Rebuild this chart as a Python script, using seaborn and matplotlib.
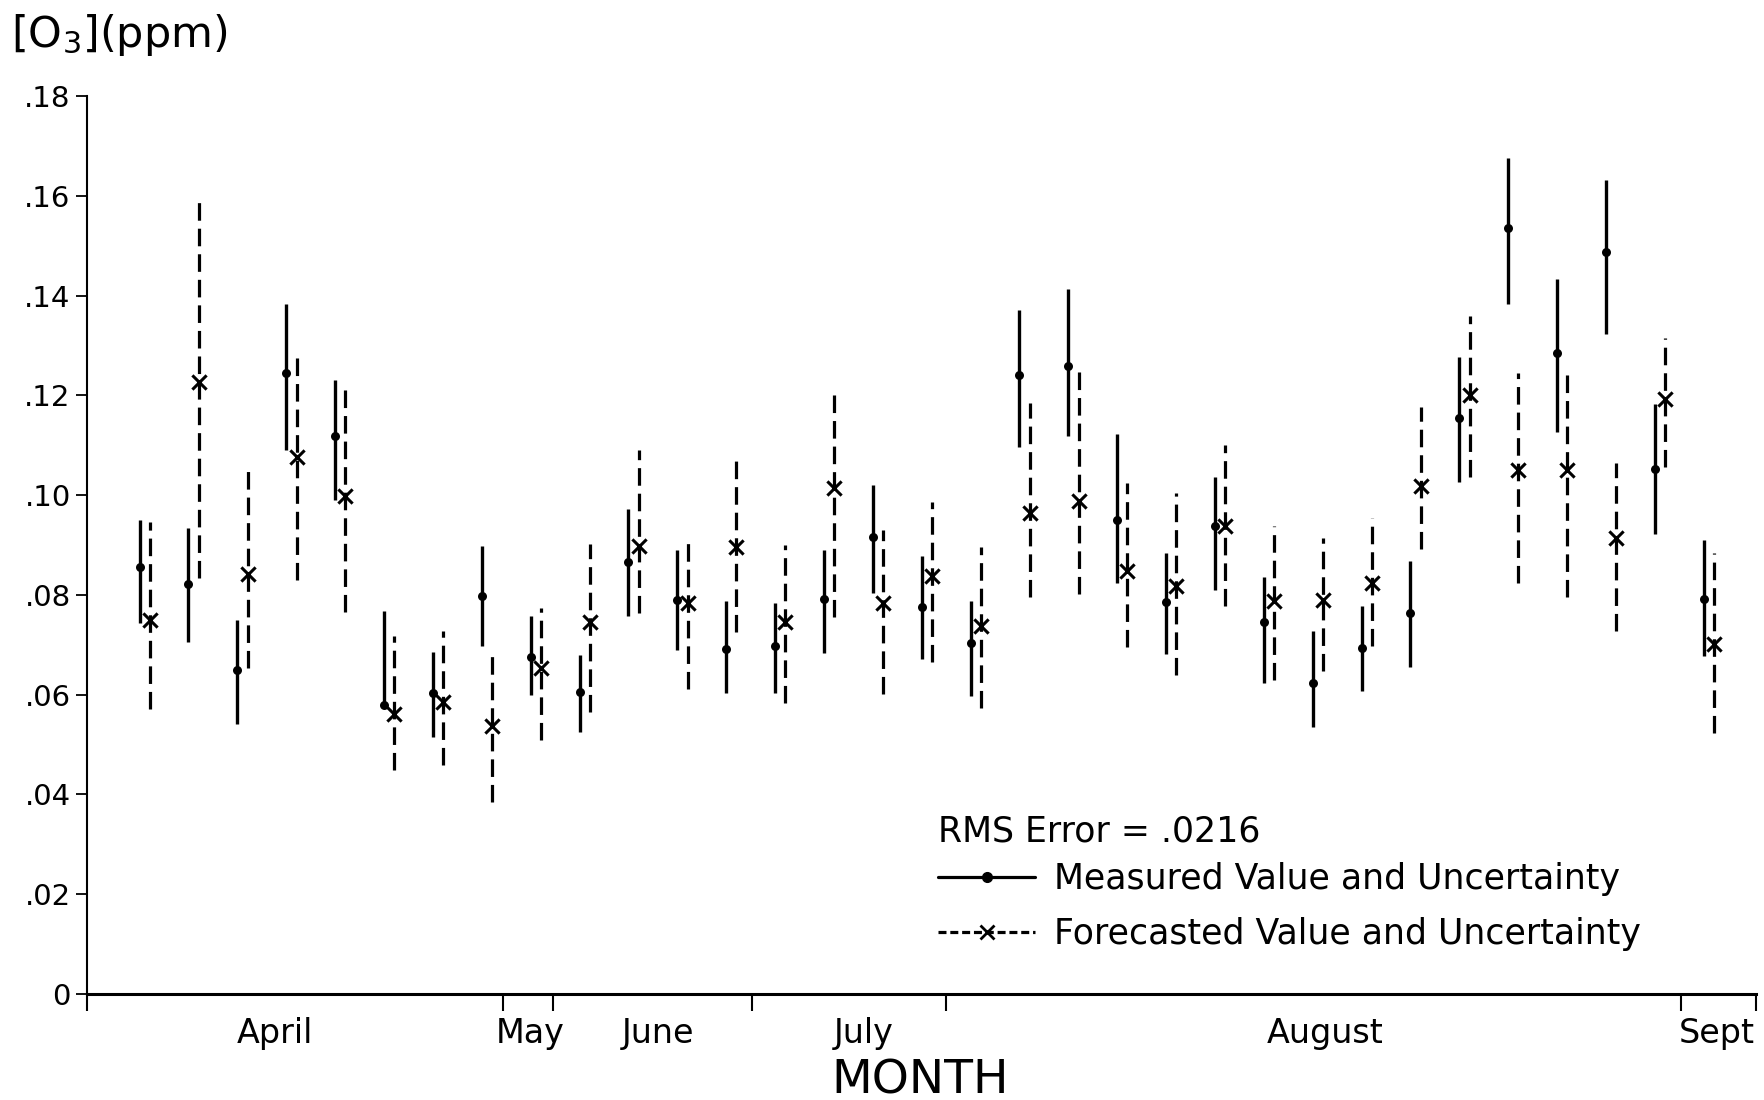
import numpy as np
import pandas as pd
import matplotlib
matplotlib.use("Agg")
import matplotlib.pyplot as plt
import seaborn as sns
from matplotlib.lines import Line2D

# ---------------- data ----------------
pair = list(range(33))
measured = [.0856, .0821, .0650, .1246, .1118, .0580, .0604, .0798, .0676, .0606,
            .0865, .0790, .0691, .0698, .0791, .0917, .0776, .0703, .1241, .1259,
            .0950, .0786, .0939, .0745, .0624, .0693, .0764, .1154, .1535, .1285,
            .1487, .1053, .0791]
meas_lo = [.0743, .0705, .0541, .1090, .0990, .0575, .0514, .0697, .0599, .0526,
           .0758, .0689, .0603, .0603, .0684, .0803, .0671, .0597, .1097, .1119,
           .0824, .0681, .0809, .0624, .0535, .0608, .0655, .1026, .1383, .1127,
           .1323, .0922, .0678]
meas_hi = [.0950, .0934, .0750, .1383, .1231, .0768, .0686, .0898, .0758, .0679,
           .0972, .0891, .0788, .0783, .0891, .1020, .0878, .0788, .1372, .1413,
           .1122, .0884, .1037, .0836, .0728, .0778, .0868, .1277, .1676, .1433,
           .1633, .1183, .0910]
forecast = [.0750, .1228, .0841, .1076, .0998, .0562, .0586, .0537, .0653, .0746,
            .0898, .0783, .0896, .0746, .1014, .0783, .0838, .0738, .0965, .0988,
            .0847, .0818, .0939, .0788, .0789, .0824, .1019, .1201, .1050, .1050,
            .0915, .1192, .0702]
fc_lo = [.0571, .0833, .0653, .0829, .0766, .0449, .0459, .0384, .0508, .0566,
         .0763, .0611, .0726, .0583, .0755, .0601, .0666, .0573, .0796, .0801,
         .0696, .0639, .0778, .0630, .0648, .0697, .0892, .1036, .0824, .0795,
         .0728, .1057, .0523]
fc_hi = [.0947, .1594, .1051, .1285, .1225, .0718, .0728, .0691, .0774, .0903,
         .1091, .0919, .1075, .0901, .1210, .0930, .0987, .0897, .1184, .1251,
         .1024, .1004, .1100, .0939, .0915, .0954, .1176, .1359, .1245, .1258,
         .1065, .1315, .0884]

month_names = ["April", "May", "June", "July", "August", "Sept"]
month_bounds = [-1.07, 7.44, 8.46, 12.52, 16.50, 31.54, 33.06]
month_label_pos = [2.76, 7.99, 10.6, 14.82, 24.25, 32.26]
y_ticks = [0, .02, .04, .06, .08, .10, .12, .14, .16, .18]
y_tick_labels = ["0", ".02", ".04", ".06", ".08", ".10", ".12", ".14", ".16", ".18"]
rms_text = "RMS Error = .0216"
legend_labels = ["Measured Value and Uncertainty", "Forecasted Value and Uncertainty"]

# ---------------- style ----------------
sns.set_theme(style="ticks")
plt.rcParams["font.family"] = ["DejaVu Sans"]
plt.rcParams["text.color"] = "black"
plt.rcParams["axes.labelcolor"] = "black"
plt.rcParams["xtick.color"] = "black"
plt.rcParams["ytick.color"] = "black"
plt.rcParams["axes.edgecolor"] = "black"

df = pd.DataFrame({"pair": pair, "measured": measured, "meas_lo": meas_lo,
                   "meas_hi": meas_hi, "forecast": forecast,
                   "fc_lo": fc_lo, "fc_hi": fc_hi})
off = 0.21
df["pair_fc"] = df["pair"] + off

fig = plt.figure(figsize=(17.64, 11.0), dpi=100)
ax = fig.add_axes([0.0495, 0.0966, 0.9457, 0.8158])

dash = (0, (5.5, 2.5))
ax.vlines(df["pair"], df["meas_lo"], df["meas_hi"], colors="black", lw=2.4)
ax.vlines(df["pair_fc"], df["fc_lo"], df["fc_hi"], colors="black", lw=2.3,
          linestyles=[dash])
sns.scatterplot(data=df, x="pair", y="measured", ax=ax, marker="o", s=42,
                color="black", edgecolor="black", linewidth=0, legend=False, zorder=3)
sns.scatterplot(data=df, x="pair_fc", y="forecast", ax=ax, marker="x", s=105,
                color="black", linewidth=2.2, legend=False, zorder=3)

ax.set_xlim(month_bounds[0], month_bounds[-1])
ax.set_ylim(0, 0.18)
sns.despine(ax=ax)
ax.spines["bottom"].set_linewidth(2.2)
ax.spines["left"].set_linewidth(1.5)

ax.set_yticks(y_ticks)
ax.set_yticklabels(y_tick_labels)
ax.tick_params(axis="y", length=8, width=1.3, direction="out", pad=4, labelsize=21)

ax.set_xticks(month_bounds)
ax.set_xticklabels([])
ax.set_xticks(month_label_pos, minor=True)
ax.set_xticklabels(month_names, minor=True)
ax.tick_params(axis="x", which="major", length=12, width=1.5, direction="out")
ax.tick_params(axis="x", which="minor", length=0, pad=17, labelsize=24)

ax.set_xlabel("MONTH", fontsize=34, va="center")
ax.xaxis.set_label_coords(0.499, -0.097)
ax.set_ylabel("")
fig.text(0.006, 0.968, r"[O$_3$](ppm)", fontsize=31, ha="left", va="center")

ax.text(0.51, 0.181, rms_text, transform=ax.transAxes, fontsize=25,
        ha="left", va="center")
handles = [Line2D([], [], color="black", lw=2.3, marker="o", ms=7),
           Line2D([], [], color="black", lw=2.3, linestyle=(0, (2.5, 1.2)),
                  marker="x", ms=10, mew=2)]
leg = ax.legend(handles, legend_labels, loc="upper left",
                bbox_to_anchor=(0.51, 0.147), frameon=False, fontsize=25,
                handlelength=2.8, handletextpad=0.55,
                labelspacing=0.6, borderpad=0, borderaxespad=0)

fig.savefig("out.png", dpi=100)
